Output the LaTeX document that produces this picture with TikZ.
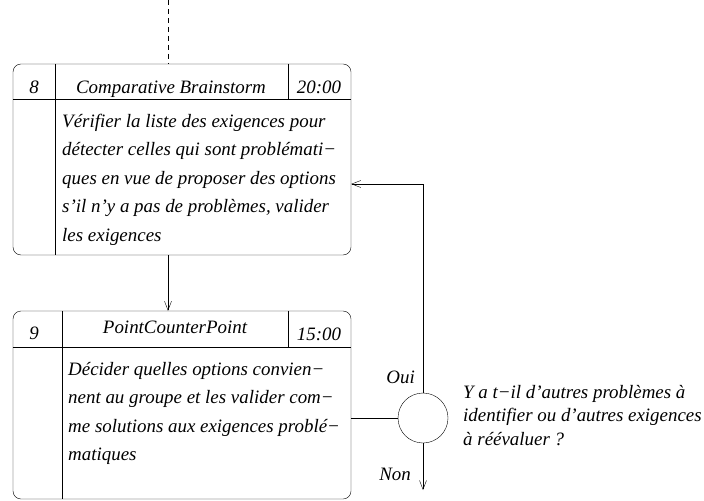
\documentclass[tikz,border=0pt]{standalone}
\usepackage{fontspec}
\setmainfont{Liberation Serif}
\usetikzlibrary{arrows.meta,positioning}
\tikzset{
  actbox/.style={draw, rounded corners=8bp, minimum width=338bp, inner sep=0pt},
  lbl/.style={font=\itshape\fontsize{19}{23}\selectfont, inner sep=0pt},
  body/.style={lbl, align=left, anchor=north west, font=\itshape\fontsize{19}{28.5}\selectfont},
  quest/.style={lbl, align=left, anchor=north west, font=\itshape\fontsize{19}{23.5}\selectfont},
  flow/.style={-{Straight Barb[length=9bp,width=7bp]}},
}

\begin{document}
\begin{tikzpicture}[x=1bp,y=-1bp]
  \useasboundingbox (0,0) rectangle (704,501);

  % activity 8
  \node[actbox, minimum height=191bp] (act8) at (182,159.5) {};
  \draw ([xshift=42bp]act8.north west) -- ([xshift=42bp]act8.south west);
  \draw ([yshift=-35bp]act8.north west) -- ([yshift=-35bp]act8.north east);
  \draw ([xshift=-63bp]act8.north east) -- ([xshift=-63bp,yshift=-35bp]act8.north east);
  \node[lbl, anchor=base] (num8) at (34,94) {8};
  \node[lbl, anchor=base] (name8) at (171,94) {Comparative Brainstorm};
  \node[lbl, anchor=base] (time8) at (319,94) {20:00};
  \node[body] (text8) at (62,114) {Vérifier la liste des exigences pour\\
    détecter celles qui sont problémati−\\
    ques en vue de proposer des options\\
    s’il n’y a pas de problèmes, valider\\
    les exigences};

  % activity 9
  \node[actbox, minimum height=188bp] (act9) at (182,405) {};
  \draw ([xshift=49bp]act9.north west) -- ([xshift=49bp]act9.south west);
  \draw ([yshift=-36bp]act9.north west) -- ([yshift=-36bp]act9.north east);
  \draw ([xshift=-63bp]act9.north east) -- ([xshift=-63bp,yshift=-36bp]act9.north east);
  \node[lbl, anchor=base] (num9) at (34,339) {9};
  \node[lbl, anchor=base] (name9) at (175,333) {PointCounterPoint};
  \node[lbl, anchor=base] (time9) at (319,340) {15:00};
  \node[body] (text9) at (68,362) {Décider quelles options convien−\\
    nent au groupe et les valider com−\\
    me solutions aux exigences problé−\\
    matiques};

  % decision
  \node[circle, draw, minimum size=50bp, inner sep=0pt] (dec) at (423,418) {};
  \node[quest] (q) at (463,385) {Y a t−il d’autres problèmes à\\
    identifier ou d’autres exigences\\
    à réévaluer ?};
  \node[lbl, anchor=base east] (oui) at (415,383) {Oui};
  \node[lbl, anchor=base east] (non) at (411,480) {Non};

  \coordinate (top) at (168,0);
  \coordinate (loop) at (423,184);
  \coordinate (fin) at (423,490);

  \draw[dashed, dash pattern=on 5bp off 4bp] (top) -- (act8.north -| top);
  \draw[flow] (act8.south -| top) -- (act9.north -| top);
  \draw (act9.east |- dec) -- (dec.west);
  \draw[flow] (dec.north) -- (loop) -- (act8.east |- loop);
  \draw[flow] (dec.south) -- (fin);
\end{tikzpicture}
\end{document}
